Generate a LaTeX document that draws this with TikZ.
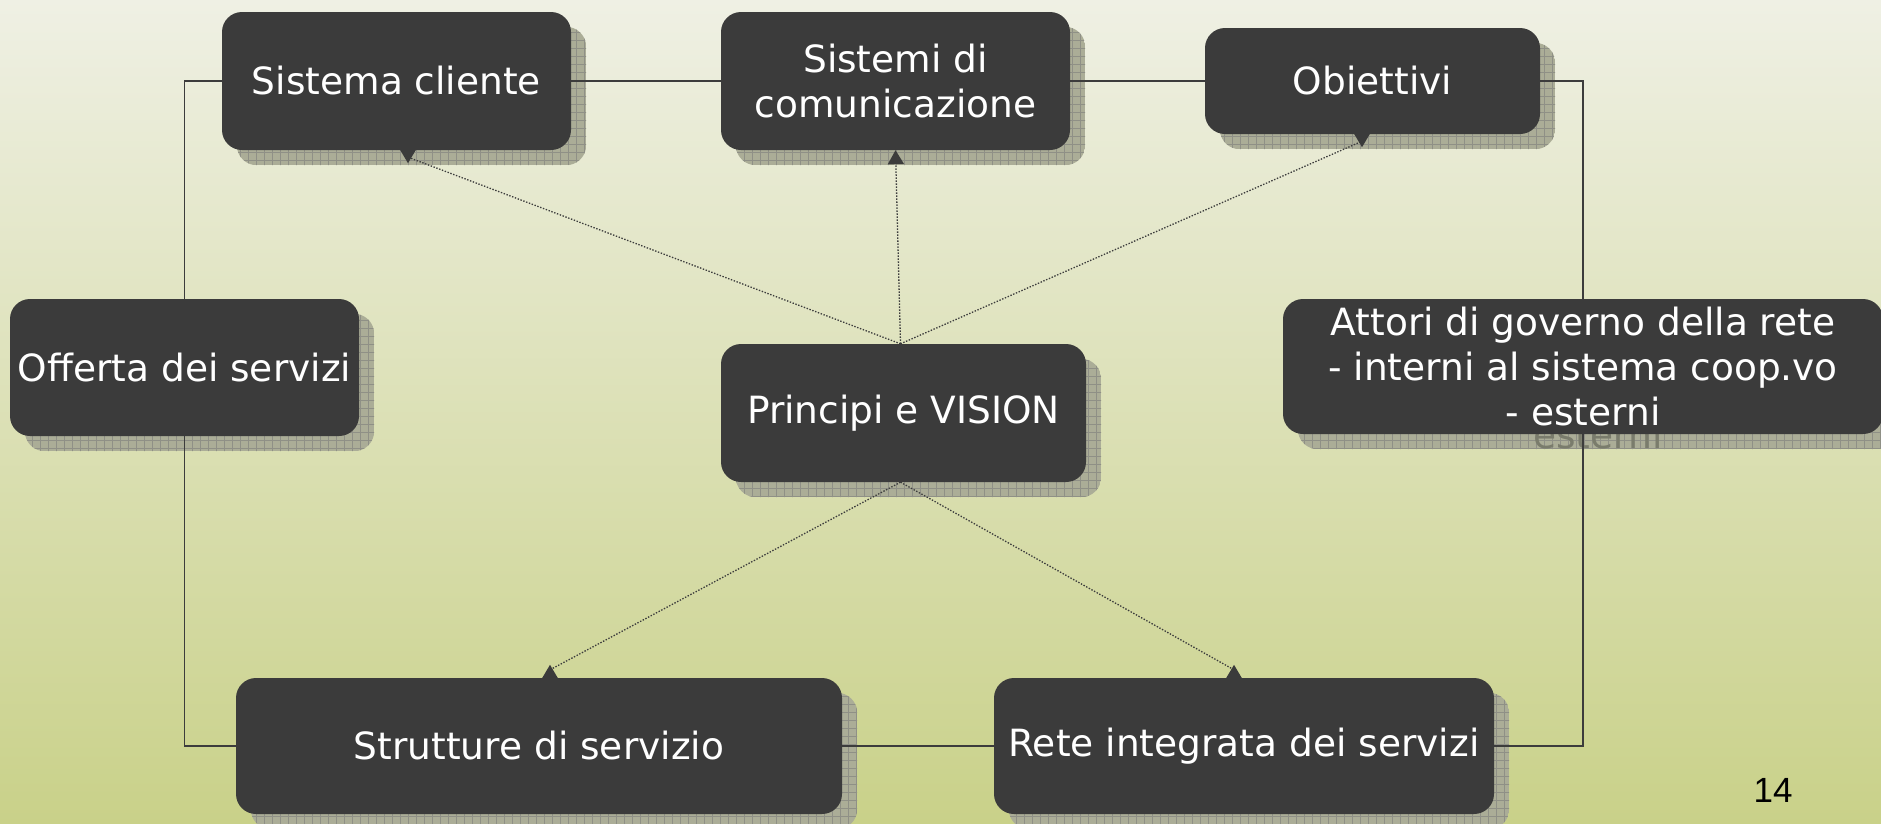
\documentclass[tikz,border=0pt]{standalone}
\usepackage{fontspec}
\setmainfont{DejaVu Sans}
\newfontfamily\numfont{Liberation Sans}
\usetikzlibrary{arrows.meta,calc}
\definecolor{boxcol}{HTML}{3B3B3B}
\definecolor{shcol}{HTML}{ABAD97}
\definecolor{gridcol}{HTML}{8F9086}
\definecolor{lncol}{HTML}{3C3C3C}
\definecolor{bgtop}{HTML}{EFF0E4}
\definecolor{bgmid}{HTML}{DEE2B8}
\definecolor{bgbot}{HTML}{C9D189}
\definecolor{ghostcol}{HTML}{7A7C6C}
\pgfdeclarelayer{bgl}\pgfdeclarelayer{shl}\pgfdeclarelayer{lnl}
\pgfsetlayers{bgl,shl,lnl,main}
\newcommand{\myshadow}[1]{%
\begin{pgfonlayer}{shl}
\begin{scope}
\clip[rounded corners=20pt] ([shift={(15,-15)}]#1.north west) rectangle ([shift={(15,-15)}]#1.south east);
\fill[shcol] ([shift={(15,-15)}]#1.north west) rectangle ([shift={(15,-15)}]#1.south east);
\draw[gridcol, line width=0.7pt, step=8] (0,-830) grid (1900,0);
\end{scope}
\end{pgfonlayer}}
\newcommand{\downtri}[1]{\fill[boxcol] ($(#1)+(-8,0.5)$) -- ($(#1)+(8,0.5)$) -- ($(#1)+(0,-13)$) -- cycle;}
\newcommand{\uptri}[1]{\fill[boxcol] ($(#1)+(-8,-0.5)$) -- ($(#1)+(8,-0.5)$) -- ($(#1)+(0,13)$) -- cycle;}
\tikzset{
  box/.style={fill=boxcol, rounded corners=20pt, text=white, align=center, inner sep=0pt,
    font=\fontsize{37.5}{45}\selectfont},
  solidln/.style={draw=lncol, line width=1.8pt},
  dotln/.style={draw=lncol, line width=1.3pt, dash pattern=on 1.4pt off 1.6pt}
}
\begin{document}
\begin{tikzpicture}[x=1pt,y=1pt]
\useasboundingbox (0,0) rectangle (1881,-823);
\begin{pgfonlayer}{bgl}
\shade[top color=bgtop, middle color=bgmid, bottom color=bgbot] (0,0) rectangle (1881,-823);
\end{pgfonlayer}

\node[box, minimum width=349pt, minimum height=138pt] (sc) at (396.5,-81) {Sistema cliente};
\node[box, minimum width=349pt, minimum height=138pt] (com) at (895.5,-81) {Sistemi di\\comunicazione};
\node[box, minimum width=335pt, minimum height=106pt] (ob) at (1372.5,-81) {Obiettivi};
\node[box, minimum width=349pt, minimum height=137pt] (off) at (184.5,-367.5) {Offerta dei servizi};
\node[box, minimum width=365pt, minimum height=138pt] (pv) at (903.5,-413) {Principi e VISION};
\node[box, minimum width=600pt, minimum height=135pt] (att) at (1583,-366.5) {Attori di governo della rete\\- interni al sistema coop.vo\\- esterni};
\node[box, minimum width=606pt, minimum height=136pt] (str) at (539,-746) {Strutture di servizio};
\node[box, minimum width=500pt, minimum height=136pt] (rete) at (1244,-746) {Rete integrata dei servizi};
\node[font=\numfont\fontsize{35}{42}\selectfont, text=black] (pg) at (1773,-790) {14};

\myshadow{sc}\myshadow{com}\myshadow{ob}\myshadow{off}
\myshadow{pv}\myshadow{att}\myshadow{str}\myshadow{rete}
\begin{pgfonlayer}{shl}
\node[anchor=base, text=ghostcol, font=\fontsize{37.5}{45}\selectfont] (ghost) at (1598,-448) {esterni};
\end{pgfonlayer}

\coordinate (pvt) at ($(pv.north)+(-3,0)$);
\coordinate (pvb) at ($(pv.south)+(-3,0)$);
\coordinate (scb) at ($(sc.south)+(11.5,0)$);
\coordinate (obb) at ($(ob.south)+(-10.5,0)$);
\coordinate (strb) at ($(str.north)+(11,0)$);
\coordinate (reteb) at ($(rete.north)+(-10,0)$);
\coordinate (sctip) at ($(scb)+(0,-7)$);
\coordinate (obtip) at ($(obb)+(0,-7)$);
\coordinate (strtip) at ($(strb)+(0,8)$);
\coordinate (retetip) at ($(reteb)+(0,8)$);

\begin{pgfonlayer}{lnl}
\draw[solidln] (sc.west) -| (off.north);
\draw[solidln] (off.south) |- (str.west);
\draw[solidln] (str.east) -- (rete.west);
\draw[solidln] (rete.east) -| (att.south);
\draw[solidln] (att.north) |- (ob.east);
\draw[solidln] (ob.west) -- (com.east);
\draw[solidln] (com.west) -- (sc.east);
\draw[dotln] (pvt) -- (sctip);
\draw[dotln, -{Triangle[width=16pt,length=14pt]}] (pvt) -- (com.south);
\draw[dotln] (pvt) -- (obtip);
\draw[dotln] (pvb) -- (strtip);
\draw[dotln] (pvb) -- (retetip);
\end{pgfonlayer}

\downtri{scb}
\downtri{obb}
\uptri{strb}
\uptri{reteb}
\end{tikzpicture}
\end{document}
